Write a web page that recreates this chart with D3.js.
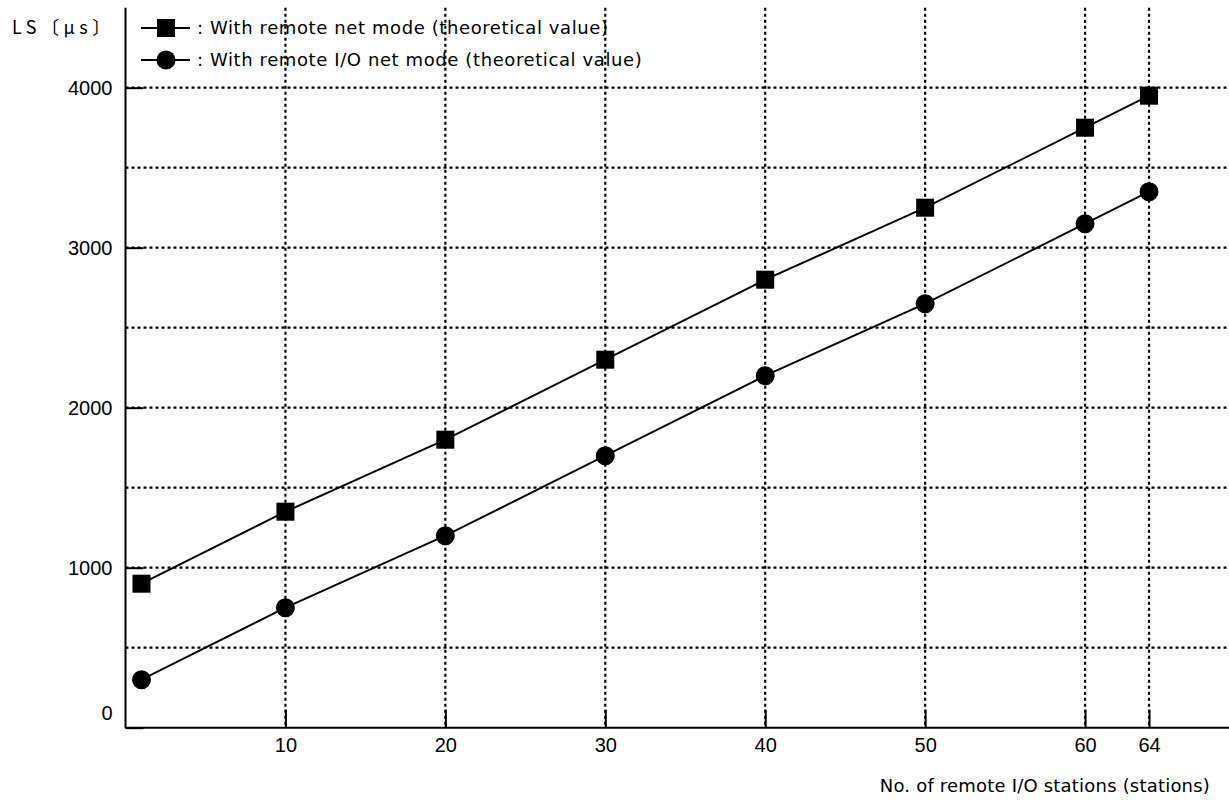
<!DOCTYPE html>
<html>
<head>
<meta charset="utf-8">
<script src="https://cdn.jsdelivr.net/npm/d3@7"></script>
<style>
  body { margin: 0; background: #fff; }
  svg { display: block; }
</style>
</head>
<body>
<svg width="1229" height="800"></svg>
<script>
// values
const stations = [1, 10, 20, 30, 40, 50, 60, 64]
const remoteNet = [900, 1350, 1800, 2300, 2800, 3250, 3750, 3950]
const remoteIONet = [300, 750, 1200, 1700, 2200, 2650, 3150, 3350]
const xTicks = [10, 20, 30, 40, 50, 60, 64]
const yTicks = [0, 1000, 2000, 3000, 4000]
const yGrid = [500, 1000, 1500, 2000, 2500, 3000, 3500, 4000]
const legendLabels = [': With remote net mode (theoretical value)', ': With remote I/O net mode (theoretical value)']

const svg = d3.select('svg')
const width = +svg.attr('width')
const height = +svg.attr('height')

const margin = { top: 7.7, right: 0, bottom: 72.3, left: 125.5 }
const innerWidth = width - margin.left - margin.right
const innerHeight = height - margin.top - margin.bottom

const xScale = d3.scaleLinear().domain([0, 69]).range([0, innerWidth])
const yScale = d3.scaleLinear().domain([0, 4500]).range([innerHeight, 0])

const g = svg.append('g')
    .attr('transform', `translate(${margin.left}, ${margin.top})`)

// dotted grid
g.append('g').selectAll('line').data(yGrid)
    .enter().append('line')
        .attr('x1', 0).attr('x2', innerWidth)
        .attr('y1', d => yScale(d)).attr('y2', d => yScale(d))
        .attr('stroke', '#000').attr('stroke-width', 2.2)
        .attr('stroke-dasharray', '3,3')
g.append('g').selectAll('line').data(xTicks)
    .enter().append('line')
        .attr('x1', d => xScale(d)).attr('x2', d => xScale(d))
        .attr('y1', 0).attr('y2', innerHeight)
        .attr('stroke', '#000').attr('stroke-width', 2.2)
        .attr('stroke-dasharray', '3,3')

// axes with short inward ticks
const yAxis = g.append('g')
    .call(d3.axisLeft(yScale).tickValues(yTicks).tickFormat(d3.format('d'))
        .tickSizeInner(-18).tickSizeOuter(0).tickPadding(13))
yAxis.select('.domain').attr('stroke-width', 2).attr('d', `M0,0V${innerHeight}`)
yAxis.selectAll('.tick line').attr('stroke-width', 2)
yAxis.selectAll('.tick text')
    .attr('font-family', 'Liberation Sans, Arial, sans-serif')
    .attr('font-size', 20)
    .attr('fill', '#000')
    .attr('x', -13)
    .attr('dy', d => d === 0 ? '-0.4em' : '0.35em')

const xAxis = g.append('g')
    .attr('transform', `translate(0, ${innerHeight})`)
    .call(d3.axisBottom(xScale).tickValues(xTicks).tickSizeInner(-18).tickSizeOuter(0).tickPadding(0))
xAxis.select('.domain').attr('stroke-width', 2).attr('d', `M0,0H${innerWidth}`)
xAxis.selectAll('.tick line').attr('stroke-width', 2)
xAxis.selectAll('.tick text')
    .attr('font-family', 'Liberation Sans, Arial, sans-serif')
    .attr('font-size', 20)
    .attr('fill', '#000')
    .attr('y', 10)

// series
const series = [
    { values: remoteNet, shape: 'square' },
    { values: remoteIONet, shape: 'circle' }
]
const line = d3.line().x(d => xScale(d[0])).y(d => yScale(d[1]))

series.forEach(s => {
    const pts = stations.map((st, i) => [st, s.values[i]])
    g.append('path')
        .attr('d', line(pts))
        .attr('fill', 'none')
        .attr('stroke', '#000')
        .attr('stroke-width', 2)
    if (s.shape === 'square') {
        g.selectAll(null).data(pts).enter().append('rect')
            .attr('x', d => xScale(d[0]) - 9)
            .attr('y', d => yScale(d[1]) - 9)
            .attr('width', 18).attr('height', 18)
            .attr('fill', '#000')
    } else {
        g.selectAll(null).data(pts).enter().append('circle')
            .attr('cx', d => xScale(d[0]))
            .attr('cy', d => yScale(d[1]))
            .attr('r', 9.5)
            .attr('fill', '#000')
    }
})

// legend
const legend = svg.append('g')
legendLabels.forEach((label, i) => {
    const cy = 28 + i * 32
    legend.append('line')
        .attr('x1', 141).attr('x2', 190)
        .attr('y1', cy).attr('y2', cy)
        .attr('stroke', '#000').attr('stroke-width', 2)
    if (series[i].shape === 'square') {
        legend.append('rect').attr('x', 157).attr('y', cy - 9)
            .attr('width', 18).attr('height', 18).attr('fill', '#000')
    } else {
        legend.append('circle').attr('cx', 166).attr('cy', cy).attr('r', 9.5).attr('fill', '#000')
    }
    legend.append('text')
        .attr('x', 197).attr('y', cy)
        .attr('dy', '0.35em')
        .attr('font-family', 'DejaVu Sans, sans-serif')
        .attr('font-size', 18)
        .attr('letter-spacing', 0.6)
        .text(label)
})

// axis titles
svg.append('text')
    .attr('x', 12).attr('y', 28).attr('dy', '0.35em')
    .attr('font-family', 'Noto Sans CJK JP, sans-serif')
    .attr('font-size', 18)
    .attr('letter-spacing', 4.5)
    .text('LS〔μs〕')

svg.append('text')
    .attr('x', 1210).attr('y', 786).attr('dy', '0.35em')
    .attr('text-anchor', 'end')
    .attr('font-family', 'DejaVu Sans, sans-serif')
    .attr('font-size', 18)
    .attr('letter-spacing', 0.2)
    .text('No. of remote I/O stations (stations)')
</script>
</body>
</html>
